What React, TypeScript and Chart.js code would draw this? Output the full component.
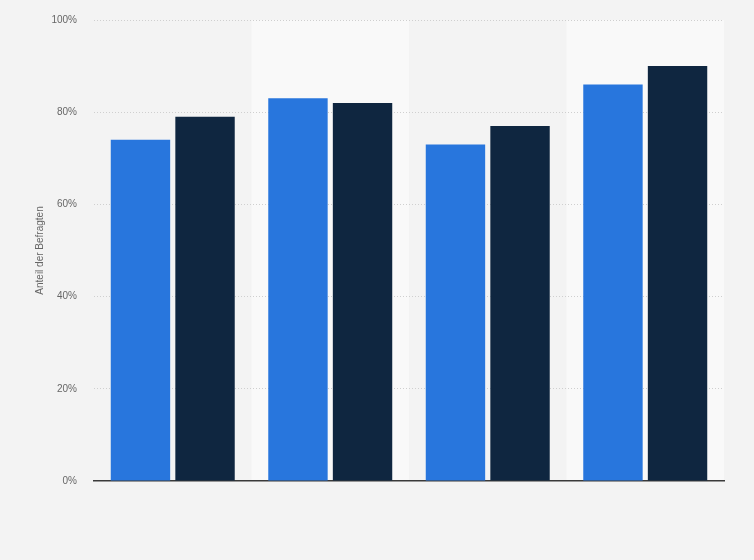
import { useEffect, useRef } from 'react'
import { Chart, registerables } from 'chart.js'

Chart.register(...registerables)

const categories = ['Gruppe 1', 'Gruppe 2', 'Gruppe 3', 'Gruppe 4']
const seriesA = [74, 83, 73, 86]
const seriesB = [79, 82, 77, 90]
const yTicks = [0, 20, 40, 60, 80, 100]

const BLUE = '#2876dd'
const NAVY = '#0f2640'

// helle Streifen hinter jeder zweiten Kategorie
const bandPlugin = {
  id: 'bands',
  beforeDraw(chart: Chart) {
    const { ctx, chartArea } = chart
    const x = chart.scales.x
    const step = (chartArea.right - chartArea.left) / categories.length
    ctx.save()
    ctx.fillStyle = '#f9f9f9'
    categories.forEach((_, i) => {
      if (i % 2 === 1) {
        const cx = x.getPixelForValue(i)
        ctx.fillRect(cx - step / 2, chartArea.top, step, chartArea.bottom - chartArea.top)
      }
    })
    ctx.restore()
  },
}

export default function App() {
  const canvasRef = useRef<HTMLCanvasElement>(null)

  useEffect(() => {
    if (!canvasRef.current) return
    const chart = new Chart(canvasRef.current, {
      type: 'bar',
      data: {
        labels: categories,
        datasets: [
          { label: 'Serie A', data: seriesA, backgroundColor: BLUE, borderWidth: 0 },
          { label: 'Serie B', data: seriesB, backgroundColor: NAVY, borderWidth: 0 },
        ],
      },
      options: {
        animation: false,
        responsive: true,
        maintainAspectRatio: false,
        layout: { padding: { left: 0, right: 30, top: 20, bottom: 79 } },
        datasets: { bar: { categoryPercentage: 0.82, barPercentage: 0.92 } },
        plugins: { legend: { display: false }, tooltip: { enabled: false } },
        scales: {
          x: {
            ticks: { display: false },
            grid: { display: false },
            border: { display: true, color: '#3a3a3a', width: 1.5 },
            afterFit: (s: any) => { s.height = 0 },
          },
          y: {
            min: 0,
            max: 100,
            afterBuildTicks: (s: any) => { s.ticks = yTicks.map(v => ({ value: v })) },
            afterFit: (s: any) => { s.width = 94; s.paddingTop = 0; s.paddingBottom = 0 },
            ticks: {
              padding: 17,
              color: '#666',
              font: { family: 'Liberation Sans, Arial, sans-serif', size: 10 },
              callback: (v: any) => `${v}%`,
            },
            grid: {
              drawTicks: false,
              color: (c: any) => (c.tick.value === 0 ? 'transparent' : '#cfcfcf'),
              lineWidth: 1,
            },
            border: { display: false, dash: [1, 2] },
            title: {
              display: true,
              text: 'Anteil der Befragten',
              color: '#666',
              font: { family: 'Liberation Sans, Arial, sans-serif', size: 10 },
              padding: { top: 34, bottom: 0 },
            },
          },
        },
      },
      plugins: [bandPlugin],
    })
    return () => { chart.destroy() }
  }, [])

  return (
    <div style={{ position: 'absolute', left: 0, top: 0, width: 754, height: 560, background: '#f3f3f3' }}>
      <canvas ref={canvasRef} />
    </div>
  )
}
